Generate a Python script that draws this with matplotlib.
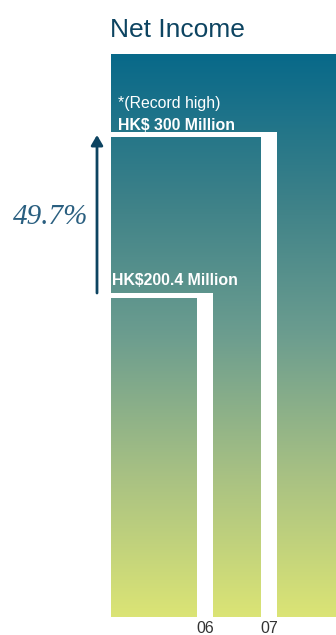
import numpy as np
import matplotlib.pyplot as plt
from matplotlib.colors import LinearSegmentedColormap
from matplotlib.patches import Rectangle

years = ['06', '07']
income = [200.4, 300.0]          # HK$ million
bar_labels = ['HK$200.4 Million', 'HK$ 300 Million']
growth = '49.7%'

# layout (x in axis pixels, y in HK$ million)
W, H = 336, 635
ax_left, ax_right, ax_top, ax_bottom = 111, 336, 54, 617
px_per_unit = (ax_bottom - 132) / income[1]
ytop = (ax_bottom - ax_top) / px_per_unit
bar_right = [102, 166]     # right edge of each white outline
gap = 16                   # width of the vertical white band
cap = 5 / px_per_unit      # thickness of the top white band

grad = LinearSegmentedColormap.from_list(
    'ni', ['#08698a', '#3b8088', '#6c9d8f', '#a8c183', '#dbe475'])
grad_img = np.linspace(0, 1, 256).reshape(-1, 1)

fig = plt.figure(figsize=(W / 100, H / 100), dpi=100)
ax = fig.add_axes([ax_left / W, (H - ax_bottom) / H,
                   (ax_right - ax_left) / W, (ax_bottom - ax_top) / H])
xmax = ax_right - ax_left

def draw_grad(z, clip=None):
    im = ax.imshow(grad_img, cmap=grad, aspect='auto', origin='upper',
                   extent=[0, xmax, 0, ytop], interpolation='bilinear', zorder=z)
    if clip is not None:
        ax.add_patch(clip)
        clip.set_visible(False)
        im.set_clip_path(clip)
    return im

draw_grad(1)
# taller bar first so the shorter one sits on top
z = 2
for i in [1, 0]:
    ax.bar(0, income[i], width=bar_right[i], align='edge', color='white',
           linewidth=0, zorder=z)
    rect = Rectangle((0, 0), bar_right[i] - gap, income[i] - cap,
                     transform=ax.transData)
    draw_grad(z + 1, rect)
    z += 2

ax.set_xlim(0, xmax)
ax.set_ylim(0, ytop)
ax.set_xticks([r - gap / 2 for r in bar_right])
ax.set_xticklabels(years, fontsize=11.5, color='#333333', family='Liberation Sans')
ax.tick_params(axis='x', length=0, pad=3)
ax.set_yticks([])
for s in ax.spines.values():
    s.set_visible(False)

ax.text(1, income[0] + 8 / px_per_unit, bar_labels[0], color='white',
        fontsize=11.4, fontweight='bold', family='Liberation Sans', zorder=10)
ax.text(7, income[1] + 2 / px_per_unit, bar_labels[1], color='white',
        fontsize=11.4, fontweight='bold', family='Liberation Sans', zorder=10)
ax.text(7, income[1] + 24 / px_per_unit, '*(Record high)', color='white',
        fontsize=11.4, family='Liberation Sans', zorder=10)

fig.text(110 / W, 1 - 37 / H, 'Net Income', fontsize=19, color='#0d4461',
         family='Liberation Sans')

# growth arrow on the left
ax.annotate('', xy=(97 - ax_left, income[1] - cap + 2 / px_per_unit),
            xytext=(97 - ax_left, income[0]), annotation_clip=False,
            arrowprops=dict(arrowstyle='-|>,head_length=0.6,head_width=0.35',
                            color='#0d4461', lw=2, shrinkA=0, shrinkB=0))
fig.text(51 / W, 1 - 217 / H, growth, fontsize=21, color='#2a5f80',
         family='Liberation Serif', style='italic', ha='center', va='center')

fig.savefig('out.png', dpi=100)
